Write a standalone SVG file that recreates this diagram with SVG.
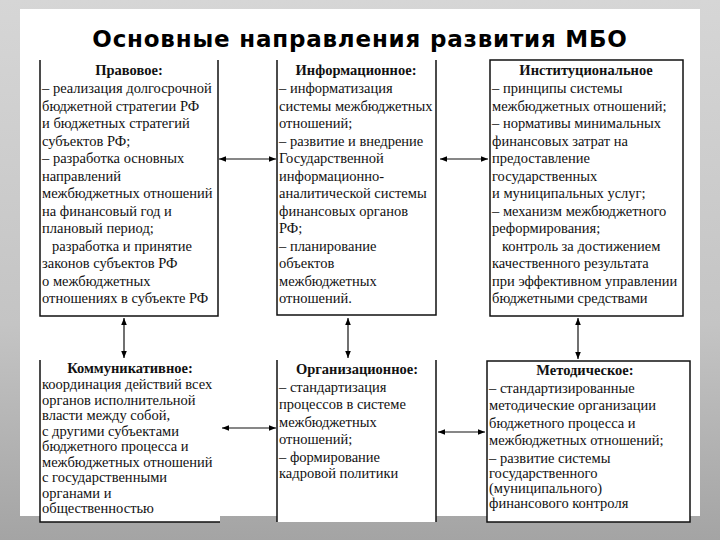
<svg xmlns="http://www.w3.org/2000/svg" width="720" height="540" viewBox="0 0 720 540">
<defs>
<linearGradient id="bg" x1="0" y1="0" x2="0" y2="1">
<stop offset="0" stop-color="#d6d6d6"/>
<stop offset="0.6" stop-color="#c4c4c4"/>
<stop offset="1" stop-color="#a4a4a4"/>
</linearGradient>
<marker id="ah" viewBox="0 0 10 10" refX="10" refY="5" markerWidth="7" markerHeight="7" markerUnits="userSpaceOnUse" orient="auto-start-reverse">
<path d="M0,1 L10,5 L0,9 z" fill="#000"/>
</marker>
<style>
.bx{fill:#fff;stroke:none}
.ln{fill:none;stroke:#111;stroke-width:1.5}
.t{font-family:"Liberation Serif","Times New Roman",serif;font-size:14.5px;fill:#111}
.h{font-family:"Liberation Serif","Times New Roman",serif;font-size:14.5px;font-weight:bold;fill:#111;text-anchor:middle}
.title{font-family:"DejaVu Sans",sans-serif;font-size:23px;font-weight:bold;fill:#000;text-anchor:middle;letter-spacing:0.8px}
.c{fill:none;stroke:#111;stroke-width:1.2;marker-start:url(#ah);marker-end:url(#ah)}
</style>
</defs>
<rect width="720" height="540" fill="url(#bg)"/>
<rect x="20" y="9" width="680" height="507" fill="#fff"/>
<text class="title" x="360" y="47">Основные направления развития МБО</text>

<g id="pravovoe">
<rect class="bx" x="40" y="60" width="178" height="256"/>
<path class="ln" d="M40,60 V316 H218 V60"/>
<text class="h" x="129" y="75">Правовое:</text>
<text class="t" x="42" y="93">– реализация долгосрочной</text>
<text class="t" x="42" y="110.5">бюджетной стратегии РФ</text>
<text class="t" x="42" y="128">и бюджетных стратегий</text>
<text class="t" x="42" y="145.5">субъектов РФ;</text>
<text class="t" x="42" y="163">– разработка основных</text>
<text class="t" x="42" y="180.5">направлений</text>
<text class="t" x="42" y="198">межбюджетных отношений</text>
<text class="t" x="42" y="215.5">на финансовый год и</text>
<text class="t" x="42" y="233">плановый период;</text>
<text class="t" x="52" y="250.5">разработка и принятие</text>
<text class="t" x="42" y="268">законов субъектов РФ</text>
<text class="t" x="42" y="285.5">о межбюджетных</text>
<text class="t" x="42" y="303">отношениях в субъекте РФ</text>
</g>

<g id="informacionnoe">
<rect class="bx" x="277" y="60" width="159" height="255"/>
<path class="ln" d="M277,60 V315 H436 V60"/>
<text class="h" x="356" y="75">Информационное:</text>
<text class="t" x="279" y="93">– информатизация</text>
<text class="t" x="279" y="110.5">системы межбюджетных</text>
<text class="t" x="279" y="128">отношений;</text>
<text class="t" x="279" y="145.5">– развитие и внедрение</text>
<text class="t" x="279" y="163">Государственной</text>
<text class="t" x="279" y="180.5">информационно-</text>
<text class="t" x="279" y="198">аналитической системы</text>
<text class="t" x="279" y="215.5">финансовых органов</text>
<text class="t" x="279" y="233">РФ;</text>
<text class="t" x="279" y="250.5">– планирование</text>
<text class="t" x="279" y="268">объектов</text>
<text class="t" x="279" y="285.5">межбюджетных</text>
<text class="t" x="279" y="303">отношений.</text>
</g>

<g id="institucionalnoe">
<rect class="ln" x="490" y="60" width="193" height="256" style="fill:#fff"/>
<text class="h" x="586" y="75">Институциональное</text>
<text class="t" x="492" y="93">– принципы системы</text>
<text class="t" x="492" y="110.5">межбюджетных отношений;</text>
<text class="t" x="492" y="128">– нормативы минимальных</text>
<text class="t" x="492" y="145.5">финансовых затрат на</text>
<text class="t" x="492" y="163">предоставление</text>
<text class="t" x="492" y="180.5">государственных</text>
<text class="t" x="492" y="198">и муниципальных услуг;</text>
<text class="t" x="492" y="215.5">– механизм межбюджетного</text>
<text class="t" x="492" y="233">реформирования;</text>
<text class="t" x="502" y="250.5">контроль за достижением</text>
<text class="t" x="492" y="268">качественного результата</text>
<text class="t" x="492" y="285.5">при эффективном управлении</text>
<text class="t" x="492" y="303">бюджетными средствами</text>
</g>

<g id="kommunikativnoe">
<rect class="bx" x="40" y="360" width="180" height="162"/>
<path class="ln" d="M40,360 V522 H220"/>
<text class="h" x="130" y="373">Коммуникативное:</text>
<text class="t" x="42" y="389">координация действий всех</text>
<text class="t" x="42" y="404.5">органов исполнительной</text>
<text class="t" x="42" y="420">власти между собой,</text>
<text class="t" x="42" y="435.5">с другими субъектами</text>
<text class="t" x="42" y="451">бюджетного процесса и</text>
<text class="t" x="42" y="466.5">межбюджетных отношений</text>
<text class="t" x="42" y="482">с государственными</text>
<text class="t" x="42" y="497.5">органами и</text>
<text class="t" x="42" y="513">общественностью</text>
</g>

<g id="organizacionnoe">
<rect class="bx" x="277" y="360" width="159" height="162"/>
<path class="ln" d="M277,360 V522 M436,360 V522"/>
<text class="h" x="357" y="374">Организационное:</text>
<text class="t" x="279" y="391.5">– стандартизация</text>
<text class="t" x="279" y="409">процессов в системе</text>
<text class="t" x="279" y="426.5">межбюджетных</text>
<text class="t" x="279" y="444">отношений;</text>
<text class="t" x="279" y="461.5">– формирование</text>
<text class="t" x="279" y="478">кадровой политики</text>
</g>

<g id="metodicheskoe">
<rect class="ln" x="487" y="361" width="203" height="161" style="fill:#fff"/>
<text class="h" x="585" y="375">Методическое:</text>
<text class="t" x="489" y="392.5">– стандартизированные</text>
<text class="t" x="489" y="410">методические организации</text>
<text class="t" x="489" y="427.5">бюджетного процесса и</text>
<text class="t" x="489" y="445">межбюджетных отношений;</text>
<text class="t" x="489" y="462.5">– развитие системы</text>
<text class="t" x="489" y="478">государственного</text>
<text class="t" x="489" y="493">(муниципального)</text>
<text class="t" x="489" y="508">финансового контроля</text>
</g>

<g id="connectors">
<line class="c" x1="219" y1="159" x2="276" y2="159"/>
<line class="c" x1="440" y1="159" x2="488" y2="159"/>
<line class="c" x1="124" y1="318" x2="124" y2="358"/>
<line class="c" x1="348" y1="318" x2="348" y2="358"/>
<line class="c" x1="578" y1="318" x2="578" y2="359"/>
<line class="c" x1="222" y1="428" x2="276" y2="428"/>
<line class="c" x1="438" y1="432" x2="485" y2="432"/>
</g>
</svg>
